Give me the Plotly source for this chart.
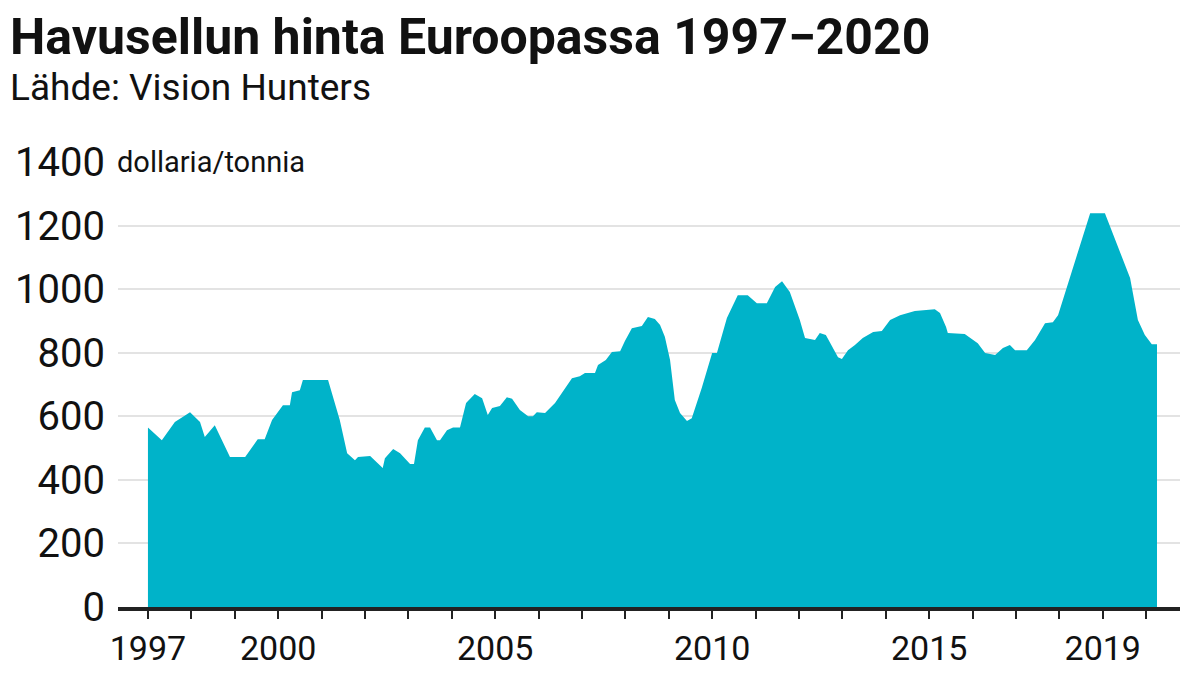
import plotly.graph_objects as go

years = [1997.00,1997.32,1997.62,1997.97,1998.20,1998.31,1998.54,1998.89,1999.24,1999.53,1999.69,1999.86,
2000.11,2000.27,2000.32,2000.50,2000.57,2001.15,2001.42,2001.59,2001.77,2001.84,2002.12,2002.35,2002.41,2002.46,
2002.65,2002.81,2003.04,2003.13,2003.22,2003.38,2003.50,2003.66,2003.73,2003.89,2004.03,2004.19,2004.33,2004.53,
2004.70,2004.83,2004.93,2005.11,2005.27,2005.39,2005.57,2005.76,2005.87,2005.96,2006.15,2006.38,2006.65,2006.77,
2006.95,2007.07,2007.30,2007.37,2007.55,2007.69,2007.88,2007.99,2008.15,2008.38,2008.52,2008.68,2008.80,2008.91,
2009.03,2009.14,2009.26,2009.42,2009.53,2009.76,2010.00,2010.11,2010.34,2010.59,2010.82,2010.92,2011.03,2011.26,
2011.45,2011.61,2011.79,2012.02,2012.14,2012.37,2012.48,2012.62,2012.90,2012.99,2013.13,2013.29,2013.47,2013.71,
2013.91,2014.10,2014.33,2014.67,2015.13,2015.25,2015.39,2015.43,2015.82,2016.12,2016.29,2016.52,2016.70,2016.86,
2016.98,2017.25,2017.44,2017.67,2017.85,2017.97,2018.20,2018.43,2018.71,2019.05,2019.35,2019.63,2019.81,2019.97,
2020.13,2020.25]
prices = [565,525,582,613,582,535,572,472,472,528,528,588,
635,635,676,682,714,714,588,484,462,472,475,443,437,468,
497,484,450,450,525,565,565,525,525,556,565,565,642,670,
657,604,626,632,660,655,620,600,600,613,610,642,695,720,
726,736,736,761,777,802,805,837,877,884,912,906,887,850,
777,651,610,585,594,689,799,799,909,981,981,969,956,956,
1007,1025,991,903,846,840,862,856,786,780,808,824,846,865,
868,903,918,931,937,925,881,862,859,830,799,793,815,824,
808,808,840,893,896,918,1019,1114,1239,1239,1132,1035,903,856,
827,827]
label_years = [1997, 2000, 2005, 2010, 2015, 2019]
y_ticks = [0, 200, 400, 600, 800, 1000, 1200, 1400]

F = "Roboto"
fig = go.Figure(go.Scatter(x=years, y=prices, mode="lines", fill="tozeroy",
                           line=dict(color="#00b3c9", width=0), fillcolor="#00b3c9",
                           hoverinfo="skip"))
fig.update_layout(
    width=1198, height=674, paper_bgcolor="white", plot_bgcolor="white",
    margin=dict(l=110, r=26, t=154, b=75, autoexpand=False), showlegend=False,
    font=dict(family=F, color="#111"),
    xaxis=dict(range=[1996.31, 2020.78], tickvals=label_years, ticktext=[str(v) for v in label_years],
               tickfont=dict(size=34), showgrid=False, zeroline=False, automargin=False,
               showline=True, linecolor="#222", linewidth=4,
               ticks="outside", ticklen=8, tickcolor="#222", tickwidth=1.5,
               minor=dict(dtick=1, tick0=1997, ticks="outside", ticklen=8, tickcolor="#222", tickwidth=1.5)),
    yaxis=dict(range=[0, 1400], tickvals=y_ticks, tickfont=dict(size=40), showgrid=True, automargin=False,
               gridcolor="#e3e3e3", gridwidth=1.5, zeroline=False, ticks="", ticklabelstandoff=12),
    annotations=[
        dict(text="<b>Havusellun hinta Euroopassa 1997−2020</b>", xref="paper", yref="paper",
             x=-0.104, y=1.0, yshift=125, xanchor="left", yanchor="middle", showarrow=False,
             font=dict(size=50, family=F)),
        dict(text="Lähde: Vision Hunters", xref="paper", yref="paper",
             x=-0.104, y=1.0, yshift=75, xanchor="left", yanchor="middle", showarrow=False,
             font=dict(size=37, family=F)),
        dict(text="dollaria/tonnia", xref="paper", yref="y", x=-0.003, y=1400,
             xanchor="left", yanchor="middle", showarrow=False, bgcolor="white",
             font=dict(size=29, family=F)),
    ],
)
fig.write_html("out.html")
